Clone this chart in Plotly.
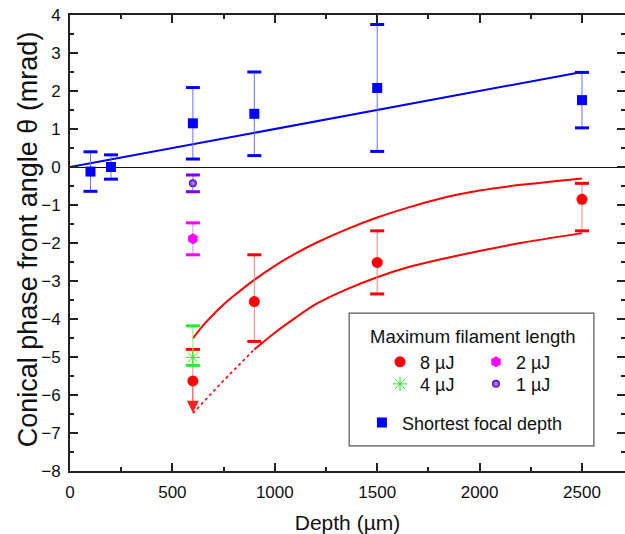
import plotly.graph_objects as go

# ---------------- data ----------------
depth_focal = [100, 200, 600, 900, 1500, 2500]
angle_focal = [-0.12, 0.0, 1.15, 1.40, 2.08, 1.76]
err_focal = [0.52, 0.32, 0.94, 1.10, 1.67, 0.73]

fit_depth = [0, 2500]
fit_angle = [0.0, 2.5]

depth_8uJ = [600, 900, 1500, 2500]
angle_8uJ = [-5.63, -3.54, -2.51, -0.85]
err_8uJ_plus = [0.83, 1.23, 0.83, 0.42]
err_8uJ_minus = [0.0, 1.05, 0.83, 0.83]
limit_8uJ_depth = 600
limit_8uJ_tip = -6.47

depth_4uJ = [600]
angle_4uJ = [-5.01]
err_4uJ_plus = [0.83]
err_4uJ_minus = [0.21]

depth_2uJ = [600]
angle_2uJ = [-1.89]
err_2uJ = [0.42]

depth_1uJ = [600]
angle_1uJ = [-0.43]
err_1uJ = [0.22]

upper_depth = [600, 650, 700, 750, 800, 900, 1000, 1100, 1200, 1350, 1500, 1650, 1800, 2000, 2200, 2500]
upper_angle = [-4.51, -4.17, -3.88, -3.62, -3.39, -2.97, -2.60, -2.28, -2.00, -1.64, -1.33, -1.07, -0.84, -0.62, -0.47, -0.30]

lower_depth = [900, 1000, 1100, 1200, 1350, 1500, 1650, 1800, 2000, 2200, 2500]
lower_angle = [-4.80, -4.36, -3.97, -3.61, -3.22, -2.90, -2.64, -2.44, -2.21, -2.00, -1.74]

dotted_depth = [600, 750, 900]
dotted_angle = [-6.48, -5.62, -4.80]

legend_title = "Maximum filament length"
x_title = "Depth (µm)"
y_title = "Conical phase front angle θ (mrad)"

FONT = "Liberation Sans, Arial, sans-serif"

fig = go.Figure()


def stems(x, y, plus, minus, color):
    fig.add_trace(go.Scatter(
        x=x, y=y, mode="markers", marker=dict(size=1, opacity=0),
        error_y=dict(type="data", symmetric=False, array=plus, arrayminus=minus,
                     color=color, thickness=1, width=0),
        showlegend=False, hoverinfo="skip"))


def caps(x, y, plus, minus, color):
    cx, cy = [], []
    for xi, yi, p, m in zip(x, y, plus, minus):
        if p > 0:
            cx.append(xi); cy.append(yi + p)
        if m > 0:
            cx.append(xi); cy.append(yi - m)
    fig.add_trace(go.Scatter(
        x=cx, y=cy, mode="markers",
        marker=dict(symbol="line-ew-open", size=10, color=color,
                    line=dict(color=color, width=3)),
        showlegend=False, hoverinfo="skip"))


# fit lines
fig.add_trace(go.Scatter(x=fit_depth, y=fit_angle, mode="lines",
                         line=dict(color="#0000ff", width=2), showlegend=False))
fig.add_trace(go.Scatter(x=upper_depth, y=upper_angle, mode="lines",
                         line=dict(color="#ff0000", width=2, shape="spline", smoothing=0.6),
                         showlegend=False))
fig.add_trace(go.Scatter(x=lower_depth, y=lower_angle, mode="lines",
                         line=dict(color="#ff0000", width=2, shape="spline", smoothing=0.6),
                         showlegend=False))
fig.add_trace(go.Scatter(x=dotted_depth, y=dotted_angle, mode="lines",
                         line=dict(color="#ff0000", width=1.6, dash="dot"), showlegend=False))

# error bars
stems(depth_focal, angle_focal, err_focal, err_focal, "#7070ff")
caps(depth_focal, angle_focal, err_focal, err_focal, "#0000ff")
stems(depth_8uJ, angle_8uJ, err_8uJ_plus, err_8uJ_minus, "#ff8080")
caps(depth_8uJ, angle_8uJ, err_8uJ_plus, err_8uJ_minus, "#ff0000")
stems(depth_4uJ, angle_4uJ, err_4uJ_plus, err_4uJ_minus, "#70ff70")
caps(depth_4uJ, angle_4uJ, err_4uJ_plus, err_4uJ_minus, "#22ee22")
stems(depth_2uJ, angle_2uJ, err_2uJ, err_2uJ, "#ff80ff")
caps(depth_2uJ, angle_2uJ, err_2uJ, err_2uJ, "#ff00ff")
stems(depth_1uJ, angle_1uJ, err_1uJ, err_1uJ, "#a060ff")
caps(depth_1uJ, angle_1uJ, err_1uJ, err_1uJ, "#7a00ff")

# arrow for 8 uJ at 600 um
fig.add_annotation(x=limit_8uJ_depth, y=limit_8uJ_tip, ax=limit_8uJ_depth,
                   ay=angle_8uJ[depth_8uJ.index(limit_8uJ_depth)],
                   xref="x", yref="y", axref="x", ayref="y", text="",
                   showarrow=True, arrowhead=2, arrowsize=2.4, arrowwidth=1,
                   arrowcolor="#ff2020", standoff=0)

# markers
fig.add_trace(go.Scatter(x=depth_8uJ, y=angle_8uJ, mode="markers", name="8 µJ",
                         marker=dict(symbol="circle", size=11, color="#ff0000"),
                         legend="legend"))
fig.add_trace(go.Scatter(x=depth_4uJ, y=angle_4uJ, mode="markers", name="4 µJ",
                         marker=dict(symbol="asterisk-open", size=12, color="#22ee22",
                                     line=dict(color="#22ee22", width=1)),
                         legend="legend3"))
fig.add_trace(go.Scatter(x=depth_2uJ, y=angle_2uJ, mode="markers", name="2 µJ",
                         marker=dict(symbol="hexagon", size=11, color="#ff00ff"),
                         legend="legend2"))
fig.add_trace(go.Scatter(x=depth_1uJ, y=angle_1uJ, mode="markers", name="1 µJ",
                         marker=dict(symbol="circle", size=8, color="#5000c0",
                                     gradient=dict(type="radial", color="#c9a0ff")),
                         legend="legend4"))
fig.add_trace(go.Scatter(x=depth_focal, y=angle_focal, mode="markers",
                         name="Shortest focal depth",
                         marker=dict(symbol="square", size=10, color="#0000ff"),
                         legend="legend5"))

axis_common = dict(
    showline=True, linecolor="#222222", linewidth=2, mirror="allticks",
    ticks="inside", ticklen=8, tickwidth=1.5, tickcolor="#222222",
    showgrid=False, automargin=False,
    tickfont=dict(family=FONT, size=17, color="#111111"),
    minor=dict(ticks="inside", ticklen=4, tickwidth=1.5, tickcolor="#222222"),
)

LEG = dict(xanchor="left", yanchor="top", bgcolor="rgba(0,0,0,0)", borderwidth=0,
           font=dict(family=FONT, size=18, color="#111111"))

fig.update_layout(
    width=625, height=534,
    margin=dict(l=70, r=0, t=15, b=63),
    paper_bgcolor="white", plot_bgcolor="white",
    font=dict(family=FONT, color="#111111"),
    xaxis=dict(range=[0, 2710], tick0=0, dtick=500, zeroline=False,
               minor_dtick=250, ticklabelstandoff=5,
               title=dict(text=x_title, font=dict(family=FONT, size=21), standoff=15),
               **axis_common),
    yaxis=dict(range=[-8, 4], tick0=0, dtick=1, minor_dtick=0.5,
               zeroline=True, zerolinecolor="#111111", zerolinewidth=1.3,
               ticklabelstandoff=4,
               **axis_common),
    legend=dict(x=0.5586, y=0.2795, **LEG),
    legend2=dict(x=0.7315, y=0.2795, **LEG),
    legend3=dict(x=0.5586, y=0.231, **LEG),
    legend4=dict(x=0.7315, y=0.231, **LEG),
    legend5=dict(x=0.526, y=0.1463, **LEG),
    showlegend=True,
)

# y-axis title
fig.add_annotation(xref="paper", yref="paper", x=-0.0757, y=0.508,
                   text=y_title, textangle=-90, showarrow=False,
                   font=dict(family=FONT, size=27, color="#111111"),
                   xanchor="center", yanchor="middle")

# legend frame and title
fig.add_shape(type="rect", xref="paper", yref="paper",
              x0=0.503, x1=0.944, y0=0.055, y1=0.346,
              line=dict(color="#555555", width=1.2), fillcolor="rgba(0,0,0,0)")
fig.add_annotation(xref="paper", yref="paper", x=0.726, y=0.2945,
                   text=legend_title, showarrow=False,
                   font=dict(family=FONT, size=18.5, color="#111111"),
                   xanchor="center", yanchor="middle")

fig.write_html("out.html", config={"displayModeBar": False},
               post_script="document.body.style.margin='0';document.body.style.overflow='hidden';")
